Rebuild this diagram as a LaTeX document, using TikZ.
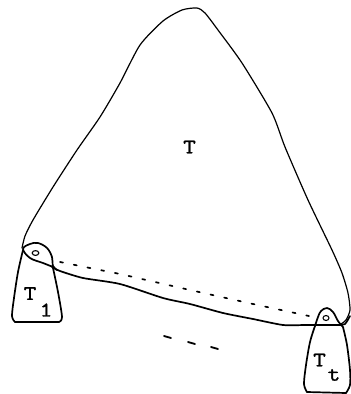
\documentclass[tikz,border=0pt]{standalone}
\usepackage{fontspec}
\setmonofont[FakeBold=1.3]{Latin Modern Mono}
\begin{document}
\begin{tikzpicture}[x=1pt,y=-1pt,
  outline/.style={line width=1.2pt,line cap=round,line join=round},
  thick outline/.style={line width=1.7pt,line cap=round,line join=round},
  lbl/.style={inner sep=0pt,xscale=1.18,font=\huge\ttfamily\bfseries}]
\useasboundingbox (0,0) rectangle (351,394);
% big triangle T
\draw[outline] plot[smooth,tension=0.4] coordinates {
  (22,248) (25,236) (33,220) (53,187) (77,150) (100,117) (120,83) (140,45)
  (163,21) (182,10) (197,8) (205,13) (218,30) (242,63) (272,113) (285,147)
  (308,200) (332,250) (342,273) (348,293) (350,310) (346,320) (341,324)};
% bottom solid edge
\draw[thick outline] plot[smooth,tension=0.4] coordinates {
  (52,267) (60,271) (83,278) (120,284) (163,298) (190,304) (223,313) (253,319)
  (283,325) (305,325) (318,325) (338,325) (345,324) (350,316)};
% dotted edge
\draw[line width=1.7pt,line cap=round,dash pattern=on 3pt off 11pt]
  (60,262) -- (120,274) -- (190,290) -- (253,304) -- (309,316);
% dashes
\draw[line width=1.8pt,line cap=round] (164,336) -- (171,338);
\draw[line width=1.8pt,line cap=round] (188,342) -- (195,344);
\draw[line width=1.8pt,line cap=round] (211,347) -- (218,349);
% left loop and bag T1
\draw[thick outline] plot[smooth,tension=0.6] coordinates {
  (57,270) (53,266) (52,257) (47,248) (38,243) (30,244) (23,249) (30,258)
  (43,263) (53,267)};
\draw[thick outline] plot[smooth,tension=0.5] coordinates {
  (23,250) (18,272) (14,298) (12,316) (15,322)};
\draw[thick outline] (15,322) -- (59,322);
\draw[thick outline] plot[smooth,tension=0.5] coordinates {
  (59,322) (62,317) (58,292) (53,268)};
\draw[line width=1.1pt] (35.5,253) ellipse (3.3pt and 2.4pt);
% right loop and bag Tt
\draw[thick outline] plot[smooth,tension=0.6] coordinates {
  (315,326) (318,317) (321,311) (327,308) (333,312) (338,321) (343,327)};
\draw[thick outline] plot[smooth,tension=0.5] coordinates {
  (315,326) (310,342) (306,365) (304,384) (307,392)};
\draw[thick outline] (307,392) -- (346,393);
\draw[thick outline] plot[smooth,tension=0.5] coordinates {
  (346,393) (350,385) (350,370) (347,345) (343,327)};
\draw[line width=1.1pt] (326,318) ellipse (3pt and 2.5pt);
% labels
\node[lbl] (T) at (189.5,147) {T};
\node[lbl] (T1T) at (30,293.5) {T};
\node[lbl] (T1s) at (46,310) {1};
\node[lbl] (TtT) at (319.5,360) {T};
\node[lbl] (Tts) at (334,375) {t};
\end{tikzpicture}
\end{document}
